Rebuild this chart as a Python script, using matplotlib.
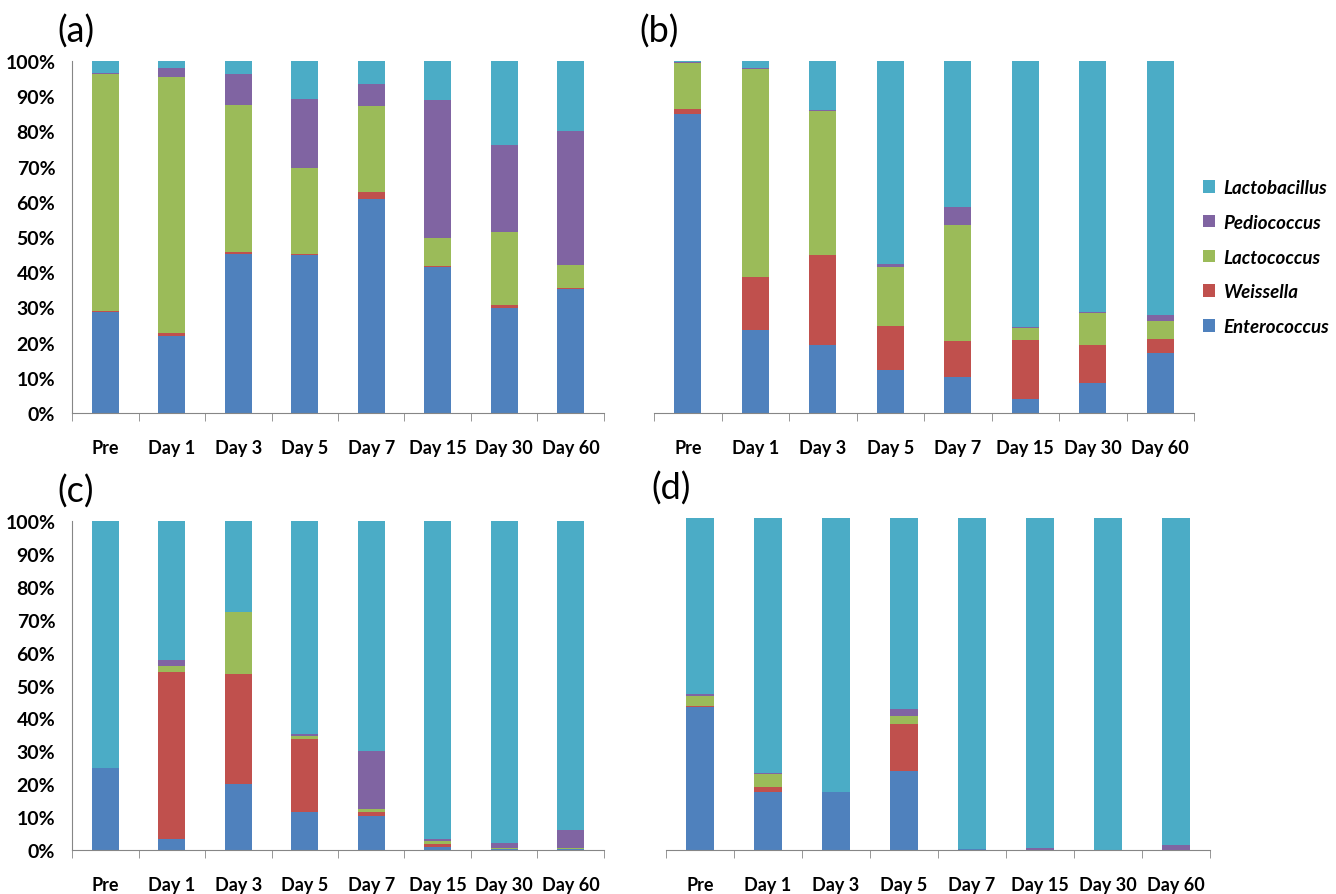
import numpy as np
import matplotlib.pyplot as plt
from matplotlib.ticker import PercentFormatter

plt.rcParams['font.family'] = ['Lato', 'DejaVu Sans']

days = ['Pre', 'Day 1', 'Day 3', 'Day 5', 'Day 7', 'Day 15', 'Day 30', 'Day 60']
genera = ['Enterococcus', 'Weissella', 'Lactococcus', 'Pediococcus', 'Lactobacillus']
colors = ['#4F81BD', '#C0504D', '#9BBB59', '#8064A2', '#4BACC6']

# percentages (%), Lactobacillus is the remainder to 100
a_entero = [28.7, 21.9, 45.3, 45.0, 60.7, 41.4, 29.9, 35.1]
a_weiss = [0.2, 0.7, 0.5, 0.3, 2.1, 0.4, 0.7, 0.4]
a_lacto = [67.3, 72.8, 41.7, 24.2, 24.5, 8.0, 20.9, 6.5]
a_pedio = [0.3, 2.5, 8.7, 19.7, 6.3, 39.1, 24.6, 38.2]

b_entero = [84.9, 23.7, 19.2, 12.1, 10.2, 4.1, 8.5, 17.1]
b_weiss = [1.6, 14.8, 25.8, 12.5, 10.3, 16.7, 10.9, 4.0]
b_lacto = [12.8, 59.1, 40.8, 16.8, 32.9, 3.4, 9.0, 5.0]
b_pedio = [0.4, 0.3, 0.4, 0.8, 5.2, 0.3, 0.3, 1.7]

c_entero = [24.8, 3.3, 20.1, 11.5, 10.4, 0.8, 0.3, 0.2]
c_weiss = [0.0, 50.8, 33.3, 22.1, 1.1, 1.0, 0.1, 0.1]
c_lacto = [0.0, 1.7, 18.9, 0.9, 1.0, 0.8, 0.1, 0.4]
c_pedio = [0.0, 2.0, 0.0, 0.8, 17.7, 0.7, 1.5, 5.4]

d_entero = [43.0, 17.4, 17.4, 23.8, 0.2, 0.1, 0.0, 0.1]
d_weiss = [0.4, 1.7, 0.0, 14.1, 0.0, 0.0, 0.0, 0.0]
d_lacto = [3.1, 3.8, 0.0, 2.4, 0.0, 0.0, 0.0, 0.0]
d_pedio = [0.5, 0.2, 0.0, 2.2, 0.2, 0.6, 0.1, 1.4]

panels = {
    'a': [a_entero, a_weiss, a_lacto, a_pedio],
    'b': [b_entero, b_weiss, b_lacto, b_pedio],
    'c': [c_entero, c_weiss, c_lacto, c_pedio],
    'd': [d_entero, d_weiss, d_lacto, d_pedio],
}

W, H = 1336, 895
fig = plt.figure(figsize=(W / 100, H / 100), dpi=100)

# pixel boxes: left, right, top(100%), bottom(0%)
boxes = {
    'a': (72, 604, 62, 414),
    'b': (654, 1194, 62, 414),
    'c': (72, 604, 522, 851),
    'd': (666, 1210, 519, 851),
}

x = np.arange(len(days))
for key, series in panels.items():
    l, r, t, bt = boxes[key]
    ax = fig.add_axes([l / W, 1 - bt / H, (r - l) / W, (bt - t) / H])
    vals = [np.array(s) for s in series]
    vals.append(100 - sum(vals))
    bottom = np.zeros(len(days))
    for v, name, col in zip(vals, genera, colors):
        ax.bar(x, v, 0.4, bottom=bottom, color=col, label=name)
        bottom += v
    ax.set_xlim(-0.5, len(days) - 0.5)
    ax.set_ylim(0, 100)
    for s in ['top', 'right']:
        ax.spines[s].set_visible(False)
    ax.spines['bottom'].set_color('#868686')
    ax.spines['left'].set_color('#868686')
    ax.set_xticks(x)
    ax.set_xticklabels(days, fontsize=13, fontweight='bold')
    ax.set_xticks(np.arange(-0.5, len(days)), minor=True)
    ax.tick_params(axis='x', which='major', length=0, pad=19)
    ax.tick_params(axis='x', which='minor', length=6, color='#868686', direction='out')
    if key in ('a', 'c'):
        ax.set_yticks(np.arange(0, 101, 10))
        ax.yaxis.set_major_formatter(PercentFormatter(decimals=0))
        ax.tick_params(axis='y', length=0, pad=12, labelsize=14)
        for lab in ax.get_yticklabels():
            lab.set_fontweight('bold')
    else:
        ax.spines['left'].set_visible(False)
        ax.set_yticks([])
    fig.text((l - 15) / W, 1 - (t - 30) / H, '(' + key + ')', fontsize=26,
             ha='left', va='center')
    if key == 'b':
        handles, labels = ax.get_legend_handles_labels()
        leg = fig.legend(handles[::-1], labels[::-1], loc='center left',
                         bbox_to_anchor=(1186 / W, 1 - 258 / H), frameon=False,
                         prop={'style': 'italic', 'weight': 'bold', 'size': 13.5},
                         handlelength=0.65, handleheight=0.65, labelspacing=0.95,
                         handletextpad=0.45)

plt.savefig('out.png', dpi=100)
